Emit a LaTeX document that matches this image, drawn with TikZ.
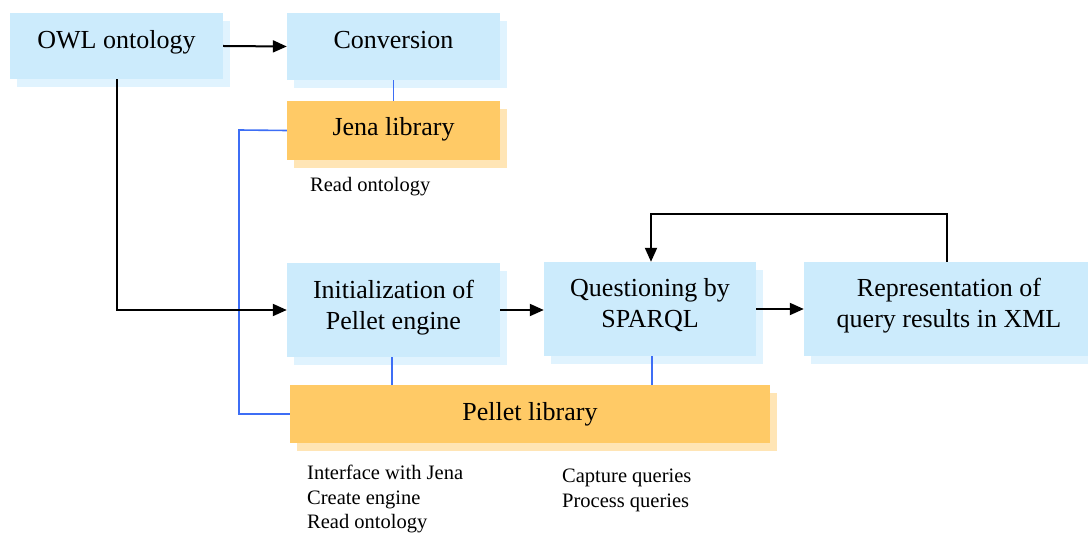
\documentclass[tikz,border=0pt]{standalone}
\usepackage{fontspec}
\setmainfont{Liberation Serif}
\usetikzlibrary{arrows.meta,shadows}
\definecolor{boxblue}{HTML}{CCEBFC}
\definecolor{shblue}{HTML}{E0F3FE}
\definecolor{boxorange}{HTML}{FFCA66}
\definecolor{shorange}{HTML}{FFE5B5}
\definecolor{linkblue}{HTML}{3D6EF5}
\tikzset{
  bluebox/.style={rectangle, fill=boxblue, inner sep=0pt, align=center,
    font=\fontsize{26}{31}\selectfont,
    general shadow={fill=shblue, shadow xshift=7pt, shadow yshift=-8pt}},
  orangebox/.style={rectangle, fill=boxorange, inner sep=0pt, align=center,
    font=\fontsize{26}{31}\selectfont,
    general shadow={fill=shorange, shadow xshift=7pt, shadow yshift=-8pt}},
  flow/.style={black, line width=2pt, -{Triangle[length=14pt,width=12pt]}},
  link/.style={linkblue, line width=1.6pt},
  note/.style={anchor=north west, align=left, inner sep=0pt,
    font=\fontsize{20.5}{24.5}\selectfont}
}
\begin{document}
\begin{tikzpicture}[x=1pt,y=-1pt]
\useasboundingbox (0,0) rectangle (1088,534);
\clip (0,0) rectangle (1088,534);
\node[bluebox, minimum width=213pt, minimum height=66pt, text depth=14pt] (owl) at (116.5,46) {OWL ontology};
\node[bluebox, minimum width=213pt, minimum height=67pt, text depth=14pt] (conv) at (393.5,46.5) {Conversion};
\node[orangebox, minimum width=213pt, minimum height=59pt, text depth=9pt] (jena) at (393.5,130.5) {Jena library};
\node[bluebox, minimum width=213pt, minimum height=94pt, text depth=11pt] (init) at (393.5,310) {Initialization of\\Pellet engine};
\node[bluebox, minimum width=212pt, minimum height=94pt, text depth=12pt] (quest) at (650,309) {Questioning by\\SPARQL};
\node[bluebox, minimum width=290pt, minimum height=94pt, text depth=13pt] (repr) at (949,309) {Representation of\\query results in XML};
\node[orangebox, minimum width=480pt, minimum height=58pt] (pellet) at (530,414) {Pellet library};

\node[note] (n1) at (310,177) {Read ontology};
\node[note] (n2) at (307,465) {Interface with Jena\\Create engine\\Read ontology};
\node[note] (n3) at (562,469) {Capture queries\\Process queries};

\coordinate (c1) at (239,130);
\coordinate (c2) at (239,414);
\coordinate (c3) at (116.5,310);
\coordinate (c4) at (947,214);
\coordinate (c5) at (651,214);

\draw[link] (conv.south) -- (jena.north);
\draw[link] (jena.west) -- (c1) -- (c2) -- (pellet.west);
\draw[link] (init.south -| 392,0) -- (pellet.north -| 392,0);
\draw[link] (quest.south -| 652,0) -- (pellet.north -| 652,0);

\draw[flow] (owl.east) -- (conv.west);
\draw[flow] (owl.south) -- (c3) -- (init.west);
\draw[flow] (init.east) -- (quest.west |- init.east);
\draw[flow] (quest.east) -- (repr.west |- quest.east);
\draw[flow] (c4 |- repr.north) -- (c4) -- (c5) -- (c5 |- quest.north);
\end{tikzpicture}
\end{document}
